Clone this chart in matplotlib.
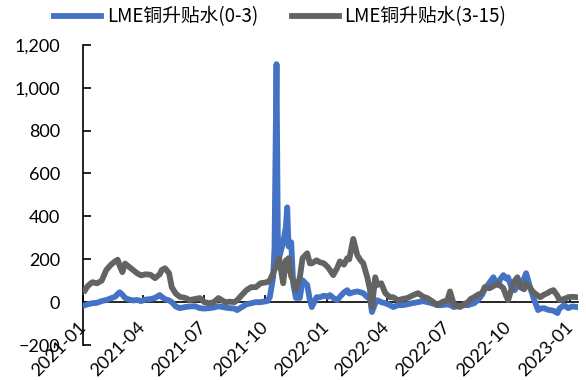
import pandas as pd
import matplotlib
matplotlib.use("Agg")
from matplotlib import pyplot as plt
import matplotlib.dates as mdates

# LME铜升贴水 (美元/吨)
dates = [
    "2021-01-04", "2021-01-08", "2021-01-15", "2021-01-22", "2021-01-29", "2021-02-05",
    "2021-02-12", "2021-02-18", "2021-02-22", "2021-02-25", "2021-03-01", "2021-03-05",
    "2021-03-11", "2021-03-17", "2021-03-23", "2021-03-29", "2021-04-05", "2021-04-12",
    "2021-04-19", "2021-04-26", "2021-04-29", "2021-05-04", "2021-05-10", "2021-05-14",
    "2021-05-20", "2021-05-26", "2021-06-03", "2021-06-10", "2021-06-18", "2021-06-25",
    "2021-07-02", "2021-07-09", "2021-07-16", "2021-07-23", "2021-08-02", "2021-08-09",
    "2021-08-16", "2021-08-20", "2021-08-27", "2021-09-03", "2021-09-10", "2021-09-17",
    "2021-09-24", "2021-10-04", "2021-10-08", "2021-10-13", "2021-10-15", "2021-10-18",
    "2021-10-20", "2021-10-22", "2021-10-28", "2021-11-01", "2021-11-03", "2021-11-05",
    "2021-11-09", "2021-11-12", "2021-11-16", "2021-11-22", "2021-11-26", "2021-12-03",
    "2021-12-07", "2021-12-10", "2021-12-17", "2021-12-22", "2021-12-28", "2022-01-03",
    "2022-01-06", "2022-01-11", "2022-01-17", "2022-01-21", "2022-01-27", "2022-02-01",
    "2022-02-04", "2022-02-10", "2022-02-16", "2022-02-21", "2022-02-25", "2022-03-03",
    "2022-03-07", "2022-03-10", "2022-03-15", "2022-03-18", "2022-03-24", "2022-03-30",
    "2022-04-06", "2022-04-11", "2022-04-18", "2022-04-25", "2022-05-02", "2022-05-09",
    "2022-05-18", "2022-05-26", "2022-06-01", "2022-06-08", "2022-06-16", "2022-06-23",
    "2022-07-01", "2022-07-05", "2022-07-11", "2022-07-15", "2022-07-20", "2022-07-26",
    "2022-08-01", "2022-08-05", "2022-08-10", "2022-08-16", "2022-08-22", "2022-08-26",
    "2022-09-02", "2022-09-08", "2022-09-14", "2022-09-19", "2022-09-23", "2022-09-27",
    "2022-09-30", "2022-10-05", "2022-10-10", "2022-10-14", "2022-10-18", "2022-10-24",
    "2022-10-27", "2022-11-01", "2022-11-07", "2022-11-14", "2022-11-17", "2022-11-23",
    "2022-11-28", "2022-12-02", "2022-12-07", "2022-12-13", "2022-12-16", "2022-12-23",
    "2022-12-29", "2023-01-04", "2023-01-12",
]

spread_0_3 = [
    -14, -10, -5, -3, 5, 10,
    18, 25, 38, 46, 35, 20,
    12, 8, 10, 5, 12, 14,
    20, 33, 25, 14, 8, 0,
    -20, -28, -23, -20, -19, -28,
    -30, -28, -25, -19, -25, -28,
    -30, -37, -23, -10, -5, 0,
    0, 5, 23, 116, 250, 1110,
    300, 209, 280, 350, 442, 260,
    279, 88, 20, 20, 102, 80,
    10, -23, 23, 23, 30, 25,
    33, 20, 9, 25, 45, 56,
    40, 46, 50, 46, 42, 23,
    20, -46, -5, 9, 0, -5,
    -14, -23, -14, -14, -10, -5,
    0, 5, 0, -5, -14, -14,
    -10, -14, -23, -20, -18, -14,
    -14, -10, -5, 10, 35, 60,
    90, 116, 80, 110, 126, 110,
    116, 70, 56, 80, 88, 110,
    135, 80, 20, -37, -30, -28,
    -35, -37, -40, -51, -30, -14,
    -28, -20, -23,
]

spread_3_15 = [
    55, 75, 93, 88, 100, 150,
    175, 190, 198, 170, 140, 180,
    165, 150, 135, 125, 130, 128,
    112, 130, 150, 158, 135, 70,
    40, 25, 20, 10, 15, 19,
    0, -5, 0, 19, 0, 2,
    0, 9, 33, 56, 70, 70,
    88, 93, 102, 135, 150, 172,
    190, 205, 88, 195, 150, 205,
    120, 102, 56, 116, 205, 228,
    181, 181, 195, 186, 181, 163,
    150, 126, 160, 190, 175, 205,
    200, 295, 219, 195, 181, 116,
    60, -23, 116, 80, 88, 42,
    23, 23, 9, 15, 19, 30,
    42, 25, 19, 5, -14, 0,
    9, 50, -14, -15, -23, -10,
    0, 15, 23, 35, 42, 70,
    65, 75, 88, 75, 65, 30,
    9, 60, 100, 116, 70, 60,
    88, 70, 46, 30, 23, 35,
    42, 50, 56, 30, 9, 15,
    23, 25, 23,
]

legend_labels = ["LME铜升贴水(0-3)", "LME铜升贴水(3-15)"]
line_colors = ["#4472C4", "#636363"]

x = pd.to_datetime(dates)
y_lo, y_hi = -200, 1200

fig = plt.figure(figsize=(5.86, 3.80), dpi=100)
ax = fig.add_axes([0.1416, 0.092, 0.845, 0.79])

ax.plot(x, spread_0_3, color=line_colors[0], lw=4.2, label=legend_labels[0],
        solid_joinstyle="round", zorder=3)
ax.plot(x, spread_3_15, color=line_colors[1], lw=4.2, label=legend_labels[1],
        solid_joinstyle="round", zorder=4)

ax.set_ylim(y_lo, y_hi)
ax.set_yticks(range(y_lo, y_hi + 1, 200))
ax.yaxis.set_major_formatter(matplotlib.ticker.StrMethodFormatter("{x:,.0f}"))
ax.set_xlim(pd.Timestamp("2021-01-01"), pd.Timestamp("2023-01-13"))

quarter = mdates.MonthLocator(bymonth=[1, 4, 7, 10])
ax.xaxis.set_major_locator(quarter)
ax.xaxis.set_major_formatter(mdates.DateFormatter("%Y-%m"))

for side in ["top", "right", "bottom"]:
    ax.spines[side].set_visible(False)
ax.spines["left"].set_linewidth(1.2)
ax.spines["left"].set_color("black")

ax.tick_params(axis="y", direction="in", length=5.5, width=1.2, pad=16.5,
               labelsize=13)
ax.tick_params(axis="x", length=0, pad=-15, labelsize=13)
for lbl in ax.get_xticklabels():
    lbl.set_fontfamily("Lato")
    lbl.set_rotation(45)
    lbl.set_ha("right")
    lbl.set_va("center")
    lbl.set_rotation_mode("anchor")
for lbl in ax.get_yticklabels():
    lbl.set_fontfamily("Lato")

# 零轴及其刻度
zero_ax = ax.secondary_xaxis((0 - y_lo) / (y_hi - y_lo))
zero_ax.xaxis.set_major_locator(mdates.MonthLocator(bymonth=[1, 4, 7, 10]))
zero_ax.tick_params(axis="x", direction="in", length=5, width=1.2, labelbottom=False)
zero_ax.spines["bottom"].set_linewidth(1.2)
zero_ax.spines["bottom"].set_color("black")

fig.legend(loc="center", bbox_to_anchor=(0.478, 0.955), ncol=2, frameon=False,
           handlelength=2.5, handletextpad=0.3, columnspacing=1.8,
           prop={"family": ["Noto Sans CJK SC", "DejaVu Sans"], "size": 13.5})

fig.savefig("out.png", dpi=100)
